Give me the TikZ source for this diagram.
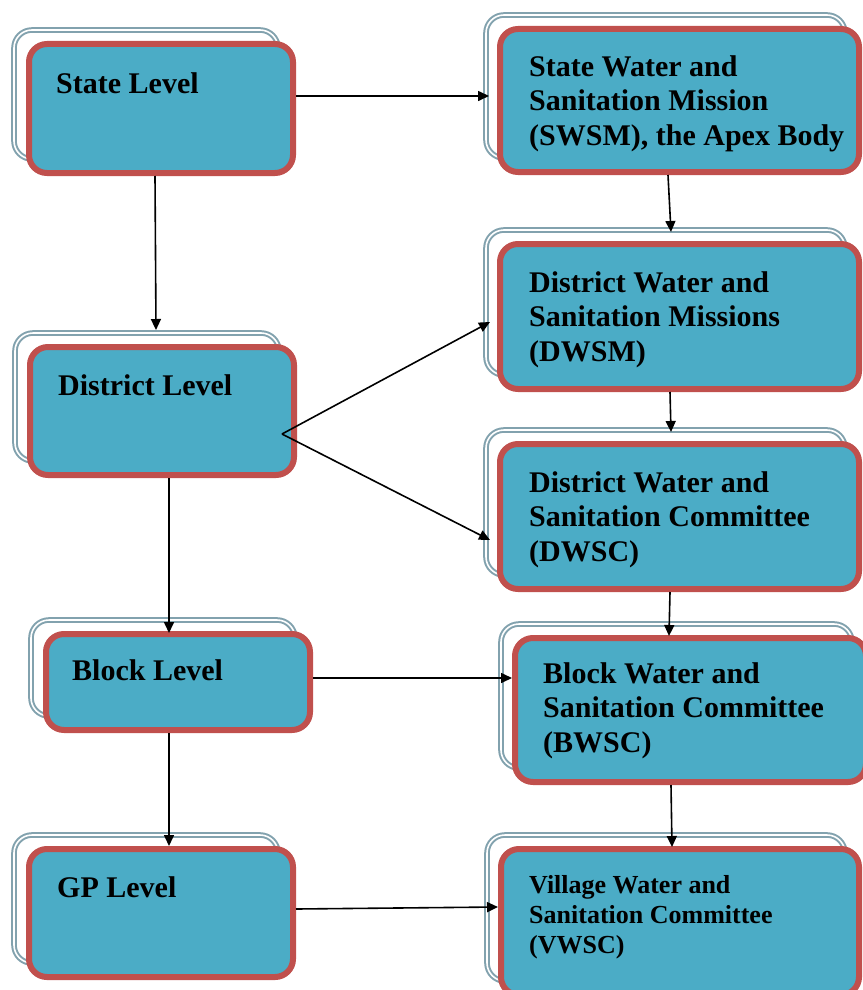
\documentclass[tikz,border=0pt]{standalone}
\usepackage{fontspec}
\setmainfont{Liberation Serif}
\usetikzlibrary{arrows.meta}
\definecolor{boxfill}{RGB}{75,172,198}
\definecolor{boxred}{RGB}{192,80,77}
\definecolor{frameblue}{RGB}{130,162,174}

\begin{document}
\begin{tikzpicture}[x=1pt, y=-1pt,
		front/.style={rectangle, rounded corners=18pt, draw=boxred, fill=boxfill, line width=6pt, inner sep=0pt},
		back/.style={rectangle, rounded corners=18pt, draw=frameblue, double=white, double distance=1.6pt, line width=2pt, inner sep=0pt, outer sep=0pt},
		lbl/.style={font=\bfseries\fontsize{30}{34.5}\selectfont, inner sep=0pt, align=left},
		arr/.style={-{Triangle[length=11pt,width=10pt]}, line width=1.6pt}]
	\useasboundingbox (0,0) rectangle (862,990);
	% back frames
	\node[back, minimum width=264pt, minimum height=129pt] (stateb) at (146,94.5) {};
	\node[back, minimum width=264pt, minimum height=128pt] (districtb) at (147,397) {};
	\node[back, minimum width=264pt, minimum height=96pt] (blockb) at (163,668) {};
	\node[back, minimum width=264pt, minimum height=128pt] (gpb) at (146,899) {};
	\node[back, minimum width=359pt, minimum height=143pt] (swsmb) at (665.5,86.5) {};
	\node[back, minimum width=359pt, minimum height=145pt] (dwsmb) at (665.5,302.5) {};
	\node[back, minimum width=359pt, minimum height=145pt] (dwscb) at (665.5,502.5) {};
	\node[back, minimum width=351pt, minimum height=144pt] (bwscb) at (676.5,696) {};
	\node[back, minimum width=358pt, minimum height=146pt] (vwscb) at (666,908) {};
	% boxes
	\node[front, minimum width=264pt, minimum height=129pt] (state) at (161,108.5) {};
	\node[front, minimum width=264pt, minimum height=128pt] (district) at (162,411) {};
	\node[front, minimum width=264pt, minimum height=96pt] (block) at (178,682) {};
	\node[front, minimum width=264pt, minimum height=128pt] (gp) at (161,913) {};
	\node[front, minimum width=359pt, minimum height=143pt] (swsm) at (679.5,100.5) {};
	\node[front, minimum width=359pt, minimum height=145pt] (dwsm) at (679.5,316.5) {};
	\node[front, minimum width=359pt, minimum height=145pt] (dwsc) at (679.5,516.5) {};
	\node[front, minimum width=351pt, minimum height=144pt] (bwsc) at (690.5,710) {};
	\node[front, minimum width=358pt, minimum height=146pt] (vwsc) at (680,922) {};
	% labels
	\node[lbl, anchor=base west] (statetxt) at (56,93) {State Level};
	\node[lbl, anchor=base west] (districttxt) at (58,395) {District Level};
	\node[lbl, anchor=base west] (blocktxt) at (72,680) {Block Level};
	\node[lbl, anchor=base west] (gptxt) at (57,897) {GP Level};
	\node[lbl, anchor=north west] (swsmtxt) at (529,55) {State Water and\\Sanitation Mission\\(SWSM), the Apex Body};
	\node[lbl, anchor=north west] (dwsmtxt) at (529,271) {District Water and\\Sanitation Missions\\(DWSM)};
	\node[lbl, anchor=north west] (dwsctxt) at (529,471) {District Water and\\Sanitation Committee\\(DWSC)};
	\node[lbl, anchor=north west] (bwsctxt) at (543,662) {Block Water and\\Sanitation Committee\\(BWSC)};
	\node[lbl, anchor=north west, font=\bfseries\fontsize{26}{30}\selectfont] (vwsctxt) at (529,875) {Village Water and\\Sanitation Committee\\(VWSC)};
	% arrows
	\coordinate (fork) at ([shift={(-15pt,-23pt)}]district.east);
	\draw[arr] ([yshift=12.5pt]state.east) -- ([shift={(3pt,-9.5pt)}]swsmb.west);
	\draw[arr] ([xshift=-6pt]state.south) -- ([shift={(9pt,3pt)}]districtb.north);
	\draw[arr] ([xshift=-11.5pt]swsm.south) -- ([shift={(5.5pt,-2pt)}]dwsmb.north);
	\draw[arr] (fork) -- ([shift={(4pt,-19.5pt)}]dwsmb.west);
	\draw[arr] (fork) -- ([shift={(4pt,-37.5pt)}]dwscb.west);
	\draw[arr] ([xshift=-9.5pt]dwsm.south) -- ([shift={(5.5pt,-2pt)}]dwscb.north);
	\draw[arr] ([xshift=7pt]district.south) -- ([shift={(-9pt,-2pt)}]block.north);
	\draw[arr] ([xshift=-9.5pt]dwsc.south) -- ([shift={(-21.5pt,-1pt)}]bwsc.north);
	\draw[arr] ([yshift=4pt]block.east) -- ([yshift=32pt]bwsc.west);
	\draw[arr] ([xshift=-9pt]block.south) -- ([xshift=8pt]gp.north);
	\draw[arr] ([xshift=-19.5pt]bwsc.south) -- ([shift={(-8pt,-1pt)}]vwsc.north);
	\draw[arr] ([yshift=4pt]gp.east) -- ([yshift=15pt]vwsc.west);
\end{tikzpicture}
\end{document}
